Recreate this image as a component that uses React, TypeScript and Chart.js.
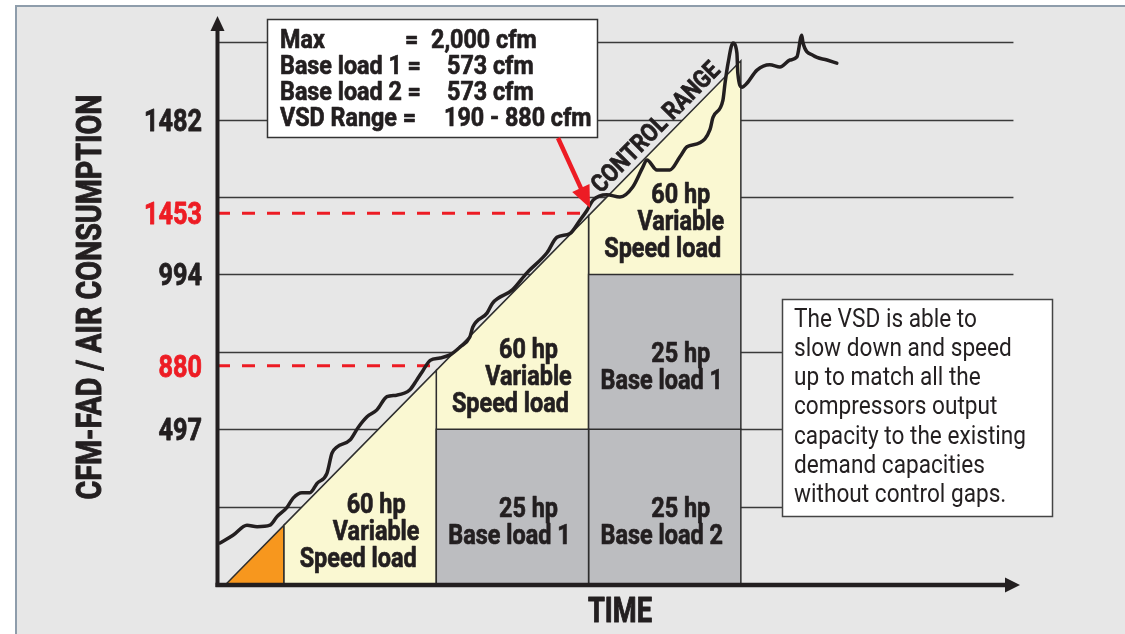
import { useEffect, useRef } from 'react';
import { Chart, registerables } from 'chart.js';

Chart.register(...registerables);

// ---- Data (time in arbitrary column units, capacity in grid levels) ----
const columnEdges = [0.44, 1.44, 2.44, 3.44];
const rampStartX = 0.06;
const rampTops = [0.76, 2.76, 4.76, 6.76];
const vsdFloors = [0, 2, 4];
const vsdLines = ['60 hp', 'Variable', 'Speed load'];

const baseCellColumn = [1, 2, 2];
const baseCellLow = [0, 0, 2];
const baseCellHigh = [2, 2, 4];
const baseCellHp = ['25 hp', '25 hp', '25 hp'];
const baseCellNames = ['Base load 1', 'Base load 2', 'Base load 1'];

const gridLevels = [1, 2, 3, 4, 5, 6, 7];
const gridEndX = 5.23;
const yTickValues = [2, 2.82, 4, 4.79, 6];
const yTickLabels = ['497', '880', '994', '1453', '1482'];
const yTickRed = [false, true, false, true, false];
const dashLevels = [2.82, 4.79];
const dashEndX = [1.44, 2.44];

const demandX = [
  0.02, 0.105, 0.197, 0.263, 0.348, 0.394, 0.46, 0.5, 0.558, 0.61, 0.657, 0.722, 0.755, 0.788,
  0.873, 0.926, 0.985, 1.05, 1.116, 1.18, 1.267, 1.313, 1.353, 1.4, 1.464, 1.53, 1.595, 1.66,
  1.68, 1.773, 1.81, 1.94, 2.035, 2.167, 2.232, 2.318, 2.383, 2.43, 2.47, 2.56, 2.646, 2.73,
  2.797, 2.823, 2.889, 2.974, 3.04, 3.086, 3.17, 3.237, 3.257, 3.322, 3.336, 3.356, 3.388,
  3.414, 3.42, 3.447, 3.48, 3.546, 3.63, 3.697, 3.762, 3.808, 3.84, 3.848, 3.914, 4.006, 4.07,
];
const demandY = [
  0.53, 0.63, 0.76, 0.74, 0.76, 0.87, 0.99, 1.11, 1.18, 1.18, 1.3, 1.43, 1.69, 1.77,
  1.86, 2.02, 2.16, 2.25, 2.42, 2.44, 2.51, 2.64, 2.76, 2.89, 2.92, 2.96, 3.06, 3.19,
  3.32, 3.5, 3.63, 3.8, 4.02, 4.28, 4.48, 4.53, 4.7, 4.83, 4.96, 5.03, 5.0, 5.13,
  5.39, 5.48, 5.35, 5.35, 5.52, 5.65, 5.7, 5.87, 6.03, 6.25, 6.47, 6.73, 6.99,
  6.86, 6.6, 6.42, 6.47, 6.64, 6.71, 6.68, 6.77, 6.81, 7.09, 6.99, 6.83, 6.77, 6.73,
];

const infoLabels = ['Max', 'Base load 1 =', 'Base load 2 =', 'VSD Range ='];
const infoValues = ['2,000 cfm', '573 cfm', '573 cfm', '190 - 880 cfm'];
const noteLines = [
  'The VSD is able to',
  'slow down and speed',
  'up to match all the',
  'compressors output',
  'capacity to the existing',
  'demand capacities',
  'without control gaps.',
];

// ---- Styles ----
const FAMILY = 'Roboto, "Noto Sans", "DejaVu Sans Condensed", sans-serif';
const bold = (s: number) => `bold ${s}px ${FAMILY}`;
const regular = (s: number) => `${s}px ${FAMILY}`;
const INK = '#231f20';
const RED = '#ed1c24';
const YELLOW = '#faf8d2';
const GRAY = '#bcbdc0';
const ORANGE = '#f7971e';
const EDGE = '#2e2e2e';

const pts = (arr: number[][]) => arr.map(([x, y]) => ({ x, y }));

function polygon(points: number[][], color: string, order: number) {
  return {
    type: 'line',
    data: pts(points),
    fill: 'shape',
    backgroundColor: color,
    borderColor: EDGE,
    borderWidth: 1.5,
    borderJoinStyle: 'miter',
    pointRadius: 0,
    tension: 0,
    order,
    clip: false,
  };
}

// draw text squeezed horizontally by factor sx (condensed look); heavy adds a thin outline
function condText(
  ctx: CanvasRenderingContext2D,
  text: string,
  x: number,
  y: number,
  align: CanvasTextAlign,
  sx: number,
  heavy = 0,
) {
  ctx.save();
  ctx.translate(x, y);
  ctx.scale(sx, 1);
  ctx.textAlign = align;
  ctx.fillText(text, 0, 0);
  if (heavy > 0) {
    ctx.strokeStyle = ctx.fillStyle as string;
    ctx.lineWidth = heavy;
    ctx.lineJoin = 'round';
    ctx.strokeText(text, 0, 0);
  }
  ctx.restore();
}

function fitText(ctx: CanvasRenderingContext2D, text: string, x: number, y: number, width: number, align: CanvasTextAlign, heavy = 0) {
  const w = ctx.measureText(text).width;
  condText(ctx, text, x, y, align, width / w, heavy);
}

function squeeze(ctx: CanvasRenderingContext2D, ref: string, width: number) {
  return width / ctx.measureText(ref).width;
}

const diagramPlugin = {
  id: 'diagram',
  beforeDraw(chart: any) {
    const ctx = chart.ctx as CanvasRenderingContext2D;
    ctx.save();
    ctx.fillStyle = '#ffffff';
    ctx.fillRect(0, 0, chart.width, chart.height);
    ctx.fillStyle = '#e7e7e7';
    ctx.fillRect(15, 5, chart.width - 15, chart.height - 5);
    ctx.strokeStyle = '#8e9dab';
    ctx.lineWidth = 2;
    ctx.beginPath();
    ctx.moveTo(16, chart.height);
    ctx.lineTo(16, 6);
    ctx.lineTo(chart.width, 6);
    ctx.stroke();
    ctx.restore();
  },
  beforeDatasetsDraw(chart: any) {
    const ctx = chart.ctx as CanvasRenderingContext2D;
    const xs = chart.scales.x;
    const ys = chart.scales.y;
    ctx.save();
    ctx.strokeStyle = '#3a3a3a';
    ctx.lineWidth = 1.6;
    for (const lv of gridLevels) {
      const y = Math.round(ys.getPixelForValue(lv)) + 0.5;
      ctx.beginPath();
      ctx.moveTo(xs.getPixelForValue(0), y);
      ctx.lineTo(xs.getPixelForValue(gridEndX), y);
      ctx.stroke();
    }
    ctx.restore();
  },
  afterDatasetsDraw(chart: any) {
    const ctx = chart.ctx as CanvasRenderingContext2D;
    const xs = chart.scales.x;
    const ys = chart.scales.y;
    const X = (v: number) => xs.getPixelForValue(v);
    const Y = (v: number) => ys.getPixelForValue(v);
    ctx.save();
    ctx.textBaseline = 'alphabetic';

    // Axes with arrowheads
    const ax = X(0) + 0.5;
    const ay = Y(0) + 1;
    ctx.fillStyle = INK;
    ctx.strokeStyle = INK;
    ctx.lineWidth = 4;
    ctx.lineCap = 'butt';
    ctx.beginPath();
    ctx.moveTo(ax, ay + 2);
    ctx.lineTo(ax, 28);
    ctx.stroke();
    ctx.beginPath();
    ctx.moveTo(ax, 16);
    ctx.lineTo(ax - 7, 31);
    ctx.lineTo(ax + 7, 31);
    ctx.closePath();
    ctx.fill();
    ctx.lineWidth = 4.5;
    ctx.beginPath();
    ctx.moveTo(ax - 2, ay);
    ctx.lineTo(1008, ay);
    ctx.stroke();
    ctx.beginPath();
    ctx.moveTo(1020, ay);
    ctx.lineTo(1005, ay - 7.5);
    ctx.lineTo(1005, ay + 7.5);
    ctx.closePath();
    ctx.fill();

    // Y tick labels
    ctx.font = bold(31);
    const sTick = squeeze(ctx, '1482', 58);
    yTickValues.forEach((v, i) => {
      ctx.fillStyle = yTickRed[i] ? RED : INK;
      condText(ctx, yTickLabels[i], 202, Y(v) + 11, 'right', sTick, 0.8);
    });

    // Axis titles
    ctx.fillStyle = INK;
    ctx.font = bold(35);
    ctx.save();
    ctx.translate(88, 297);
    ctx.rotate(-Math.PI / 2);
    fitText(ctx, 'CFM-FAD / AIR CONSUMPTION', 0, 12.5, 405, 'center', 1);
    ctx.restore();
    fitText(ctx, 'TIME', 620, 622, 64, 'center', 1);

    // Region labels: variable speed columns
    ctx.font = bold(27);
    const sLab = squeeze(ctx, 'Speed load', 117);
    const lineOffsets = [16, 16, -2];
    vsdFloors.forEach((floor, i) => {
      const cx = (X(columnEdges[i]) + X(columnEdges[i + 1])) / 2;
      const bottom = Y(floor) - 17;
      vsdLines.forEach((t, k) => {
        condText(ctx, t, cx + lineOffsets[k], bottom - (vsdLines.length - 1 - k) * 27, 'center', sLab, 0.7);
      });
    });
    // Base load cells
    baseCellColumn.forEach((c, i) => {
      const cx = (X(columnEdges[c]) + X(columnEdges[c + 1])) / 2;
      const cy = (Y(baseCellLow[i]) + Y(baseCellHigh[i])) / 2;
      condText(ctx, baseCellHp[i], cx + 16, cy + 10, 'center', sLab, 0.7);
      condText(ctx, baseCellNames[i], cx - 3, cy + 37, 'center', sLab, 0.7);
    });

    // CONTROL RANGE along the ramp
    {
      const x0 = X(columnEdges[2]);
      const y0 = Y(rampTops[2]);
      const x1 = X(columnEdges[3]);
      const y1 = Y(rampTops[3]);
      const dx = x1 - x0;
      const dy = y1 - y0;
      const len = Math.hypot(dx, dy);
      const t = 0.507;
      const off = 15.4;
      const cx = x0 + dx * t + (dy / len) * off;
      const cy = y0 + dy * t + (-dx / len) * off;
      ctx.save();
      ctx.translate(cx, cy);
      ctx.rotate(Math.atan2(dy, dx));
      ctx.font = bold(25);
      fitText(ctx, 'CONTROL RANGE', 0, 9, 172, 'center', 0.7);
      ctx.restore();
    }

    // Info box (top)
    ctx.fillStyle = '#ffffff';
    ctx.fillRect(267, 19, 331, 119);
    ctx.strokeStyle = '#333333';
    ctx.lineWidth = 1.5;
    ctx.strokeRect(267.5, 19.5, 330, 118);
    ctx.fillStyle = INK;
    ctx.font = bold(26);
    const sBox = squeeze(ctx, 'Base load 1 =', 141);
    const valueX = [431, 447, 447, 444];
    infoLabels.forEach((t, i) => {
      const by = 48 + i * 26;
      condText(ctx, t, 280, by, 'left', sBox, 0.7);
      condText(ctx, infoValues[i], valueX[i], by, 'left', sBox, 0.7);
    });
    condText(ctx, '=', 405, 48, 'left', sBox, 0.7);

    // Red arrow pointing at the switch point
    {
      const sx = 558, sy = 138, tx = 590, ty = 208;
      const dx = tx - sx, dy = ty - sy;
      const len = Math.hypot(dx, dy);
      const ux = dx / len, uy = dy / len;
      const bx = tx - ux * 22, by = ty - uy * 22;
      ctx.strokeStyle = RED;
      ctx.fillStyle = RED;
      ctx.lineWidth = 4.5;
      ctx.beginPath();
      ctx.moveTo(sx, sy);
      ctx.lineTo(bx + ux * 2, by + uy * 2);
      ctx.stroke();
      ctx.beginPath();
      ctx.moveTo(tx, ty);
      ctx.lineTo(bx - uy * 9.5, by + ux * 9.5);
      ctx.lineTo(bx + uy * 9.5, by - ux * 9.5);
      ctx.closePath();
      ctx.fill();
    }

    // Note box (right)
    ctx.fillStyle = '#ffffff';
    ctx.fillRect(782, 299, 271, 218);
    ctx.strokeStyle = '#444444';
    ctx.lineWidth = 1.5;
    ctx.strokeRect(782.5, 299.5, 270, 217);
    ctx.fillStyle = INK;
    ctx.font = regular(26);
    const sNote = squeeze(ctx, 'capacity to the existing', 232);
    noteLines.forEach((t, i) => {
      condText(ctx, t, 794, 326.7 + i * 29.2, 'left', sNote);
    });

    ctx.restore();
  },
};

export default function App() {
  const ref = useRef<HTMLCanvasElement | null>(null);

  useEffect(() => {
    const canvas = ref.current;
    if (!canvas) return;

    const datasets: any[] = [];
    // Demand curve (on top)
    datasets.push({
      type: 'line',
      data: demandX.map((x, i) => ({ x, y: demandY[i] })),
      borderColor: INK,
      borderWidth: 3.5,
      pointRadius: 0,
      fill: false,
      cubicInterpolationMode: 'monotone',
      borderCapStyle: 'round',
      borderJoinStyle: 'round',
      order: 0,
      clip: false,
    });
    // Red dashed reference levels
    dashLevels.forEach((lv, i) => {
      datasets.push({
        type: 'line',
        data: pts([[0, lv], [dashEndX[i], lv]]),
        borderColor: RED,
        borderWidth: 3,
        borderDash: [13, 12],
        pointRadius: 0,
        fill: false,
        order: 1,
        clip: false,
      });
    });
    // Base load cells
    baseCellColumn.forEach((c, i) => {
      datasets.push(
        polygon(
          [
            [columnEdges[c], baseCellLow[i]],
            [columnEdges[c], baseCellHigh[i]],
            [columnEdges[c + 1], baseCellHigh[i]],
            [columnEdges[c + 1], baseCellLow[i]],
          ],
          GRAY,
          2,
        ),
      );
    });
    // Variable speed (yellow) regions
    vsdFloors.forEach((floor, i) => {
      datasets.push(
        polygon(
          [
            [columnEdges[i], floor],
            [columnEdges[i], rampTops[i]],
            [columnEdges[i + 1], rampTops[i + 1]],
            [columnEdges[i + 1], floor],
          ],
          YELLOW,
          3,
        ),
      );
    });
    // Orange start triangle
    datasets.push(
      polygon(
        [
          [rampStartX, 0],
          [columnEdges[0], rampTops[0]],
          [columnEdges[0], 0],
        ],
        ORANGE,
        4,
      ),
    );

    const chart = new Chart(canvas, {
      type: 'line',
      data: { datasets },
      options: {
        animation: false,
        responsive: false,
        maintainAspectRatio: false,
        devicePixelRatio: 1,
        layout: { padding: { left: 217, right: 105, top: 16, bottom: 50 } },
        scales: {
          x: { type: 'linear', min: 0, max: 5.273, display: false },
          y: { type: 'linear', min: 0, max: 7.339, display: false },
        },
        plugins: {
          legend: { display: false },
          tooltip: { enabled: false },
        },
        elements: { point: { radius: 0 } },
      },
      plugins: [diagramPlugin],
    } as any);

    return () => chart.destroy();
  }, []);

  return (
    <div style={{ position: 'absolute', left: 0, top: 0, width: 1125, height: 634 }}>
      <canvas ref={ref} width={1125} height={634} style={{ display: 'block' }} />
    </div>
  );
}
